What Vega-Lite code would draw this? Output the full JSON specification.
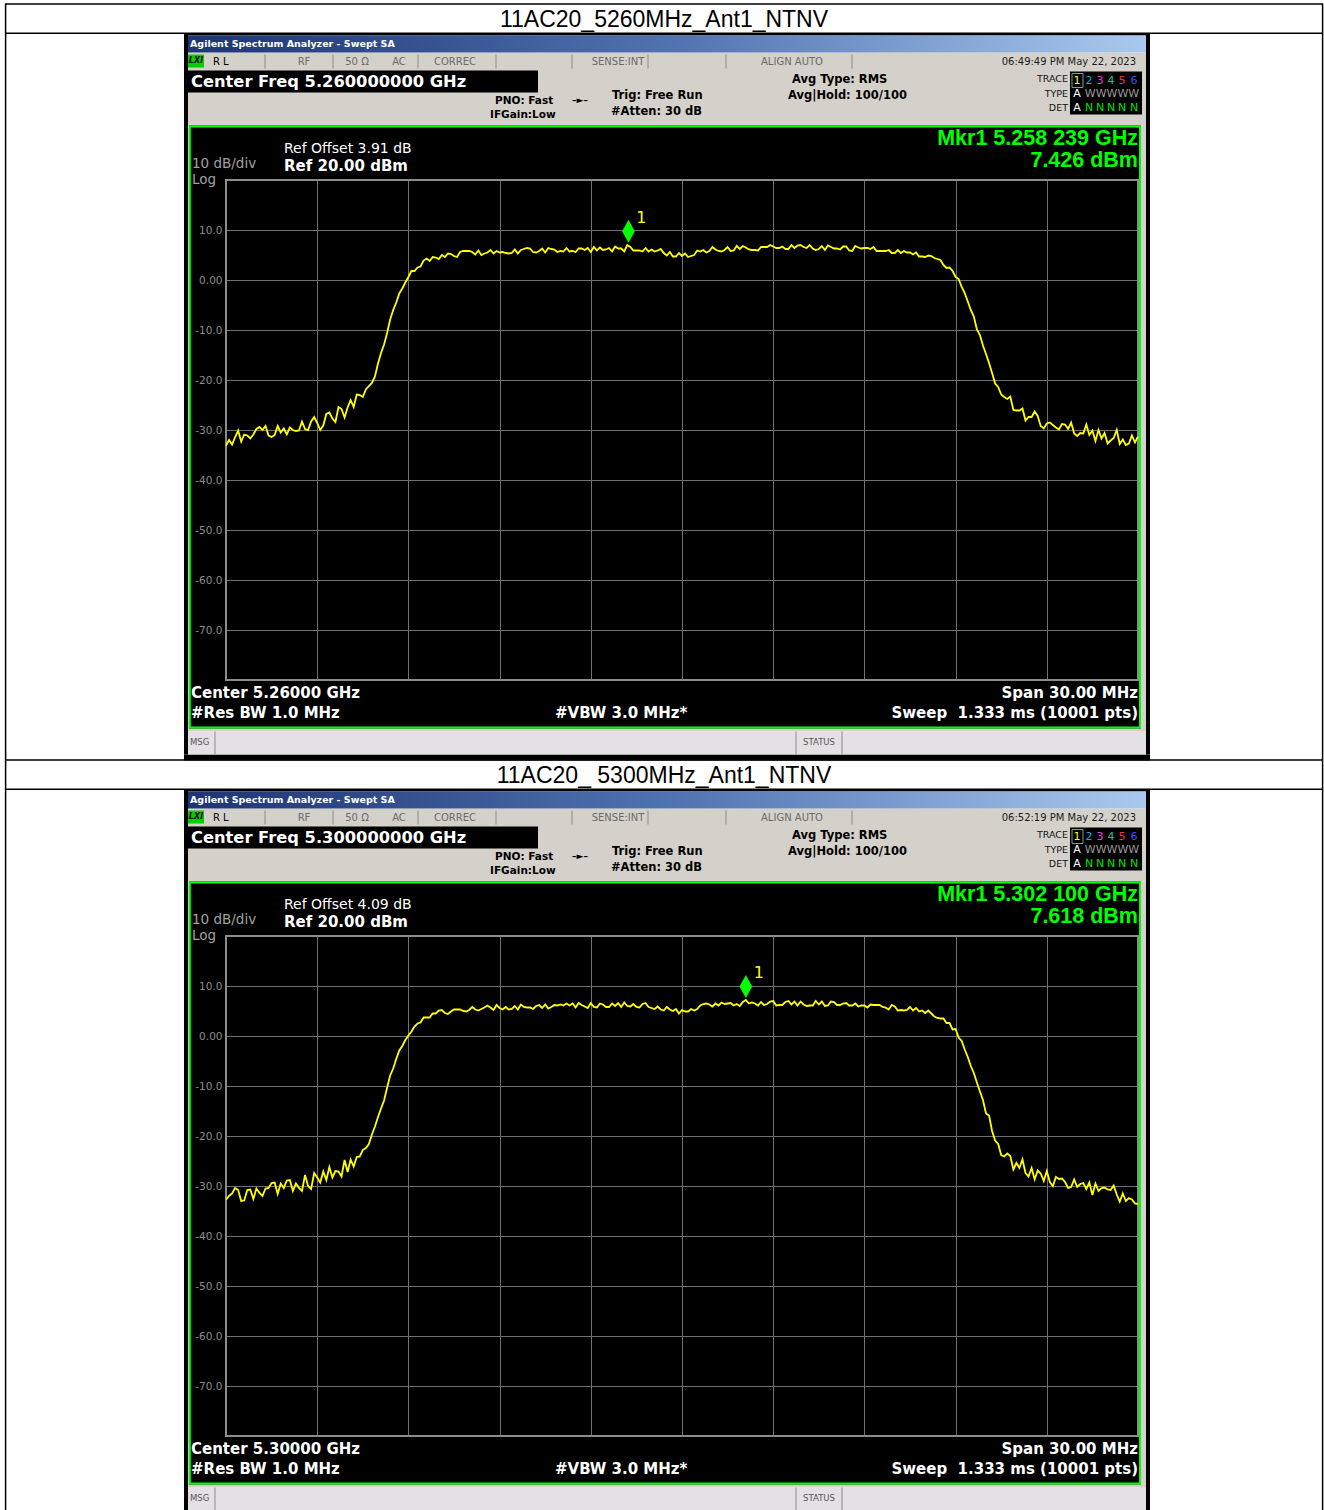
{
"$schema": "https://vega.github.io/schema/vega-lite/v6.json",
"padding": 0,
"autosize": {"type": "pad"},
"background": "white",
"bounds": "flush",
"spacing": 256,
"config": {"view": {"stroke": null, "fill": "#000000"}},
"datasets": {
"rects": [
{"panel":"1","part":"white","x":-22.434,"x2":21.118,"y":55.9,"y2":55.1},
{"panel":"all","part":"black","x":-16.382,"x2":-16.25,"y":49.3,"y2":-94.9},
{"panel":"all","part":"black","x":15.263,"x2":15.395,"y":49.3,"y2":-94.9},
{"panel":"all","part":"black","x":-16.382,"x2":15.395,"y":49.3,"y2":48.9},
{"panel":"1","part":"black","x":-16.382,"x2":15.395,"y":-94.9,"y2":-96.1},
{"panel":"all","part":"gray","x":-16.25,"x2":15.263,"y":45.5,"y2":30.9},
{"panel":"all","part":"gray","x":15.099,"x2":15.263,"y":30.9,"y2":-90.3},
{"panel":"all","part":"gray","x":-16.25,"x2":-16.217,"y":30.9,"y2":-90.3},
{"panel":"all","part":"gray","x":-16.25,"x2":15.263,"y":-89.7,"y2":-90.3},
{"panel":"all","part":"msg","x":-16.25,"x2":15.263,"y":-90.3,"y2":-94.9},
{"panel":"all","part":"lxi","x":-16.25,"x2":-15.724,"y":45.1,"y2":42.5},
{"panel":"all","part":"black","x":-16.25,"x2":-4.737,"y":41.9,"y2":37.5},
{"panel":"all","part":"black","x":12.763,"x2":15.132,"y":41.7,"y2":33.1},
{"panel":"all","part":"black","x":-16.217,"x2":15.099,"y":30.9,"y2":20},
{"panel":"all","part":"black","x":-16.217,"x2":15.099,"y":-80,"y2":-89.7},
{"panel":"all","part":"black","x":-16.217,"x2":-15,"y":20,"y2":-80},
{"panel":"all","part":"black","x":15,"x2":15.099,"y":20,"y2":-80}
],
"frames": [
{"part":"titlebar","x":-16.25,"x2":15.263,"y":48.9,"y2":45.5},
{"part":"screen","x":-16.19,"x2":15.066,"y":30.7,"y2":-89.5},
{"part":"graticule","x":-15,"x2":15,"y":20,"y2":-80}
],
"rules": [
{"panel":"1","part":"table","x":-22.27,"x2":21.086,"y":55.2,"y2":55.2},
{"panel":"all","part":"table","x":-22.27,"x2":21.086,"y":49.34,"y2":49.34},
{"panel":"1","part":"table","x":-22.27,"x2":21.086,"y":-96.0,"y2":-96.0},
{"panel":"1","part":"table","x":-22.25,"x2":-22.25,"y":55.25,"y2":-96.1},
{"panel":"1","part":"table","x":21.072,"x2":21.072,"y":55.25,"y2":-96.1},
{"panel":"2","part":"table","x":-22.25,"x2":-22.25,"y":55.1,"y2":-94.9},
{"panel":"2","part":"table","x":21.072,"x2":21.072,"y":55.1,"y2":-94.9},
{"panel":"all","part":"sep","x":-13.717,"x2":-13.717,"y":45.1,"y2":42.3},
{"panel":"all","part":"sep","x":-11.48,"x2":-11.48,"y":45.1,"y2":42.3},
{"panel":"all","part":"sep","x":-8.684,"x2":-8.684,"y":45.1,"y2":42.3},
{"panel":"all","part":"sep","x":-6.118,"x2":-6.118,"y":45.1,"y2":42.3},
{"panel":"all","part":"sep","x":-3.618,"x2":-3.618,"y":45.1,"y2":42.3},
{"panel":"all","part":"sep","x":-1.118,"x2":-1.118,"y":45.1,"y2":42.3},
{"panel":"all","part":"sep","x":1.447,"x2":1.447,"y":45.1,"y2":42.3},
{"panel":"all","part":"sep","x":5.592,"x2":5.592,"y":45.1,"y2":42.3},
{"panel":"all","part":"sep","x":-15.362,"x2":-15.362,"y":-90.3,"y2":-94.9},
{"panel":"all","part":"sep","x":3.75,"x2":3.75,"y":-90.3,"y2":-94.9},
{"panel":"all","part":"sep","x":5.263,"x2":5.263,"y":-90.3,"y2":-94.9},
{"panel":"all","part":"t1box","x":12.829,"x2":13.191,"y":41.3,"y2":41.3},
{"panel":"all","part":"t1box","x":12.829,"x2":13.191,"y":38.5,"y2":38.5},
{"panel":"all","part":"t1box","x":12.829,"x2":12.829,"y":41.3,"y2":38.5},
{"panel":"all","part":"t1box","x":13.191,"x2":13.191,"y":41.3,"y2":38.5}
],
"texts": [
{"panel":"1","kind":"title","x":-0.592,"y":52.1,"label":"11AC20_5260MHz_Ant1_NTNV"},
{"panel":"2","kind":"title","x":-0.592,"y":52.1,"label":"11AC20_ 5300MHz_Ant1_NTNV"},
{"panel":"all","kind":"header","x":-16.184,"y":47.2,"label":"Agilent Spectrum Analyzer - Swept SA"},
{"panel":"all","kind":"lxi","x":-15.987,"y":43.8,"label":"LXI"},
{"panel":"all","kind":"status_l","x":-15.428,"y":43.7,"label":"R L"},
{"panel":"all","kind":"status_c","x":-12.434,"y":43.7,"label":"RF"},
{"panel":"all","kind":"status_c","x":-10.691,"y":43.7,"label":"50 Ω"},
{"panel":"all","kind":"status_c","x":-9.309,"y":43.7,"label":"AC"},
{"panel":"all","kind":"status_c","x":-7.467,"y":43.7,"label":"CORREC"},
{"panel":"all","kind":"status_c","x":-2.105,"y":43.7,"label":"SENSE:INT"},
{"panel":"all","kind":"status_c","x":3.618,"y":43.7,"label":"ALIGN AUTO"},
{"panel":"1","kind":"status_r","x":14.934,"y":43.7,"label":"06:49:49 PM May 22, 2023"},
{"panel":"2","kind":"status_r","x":14.934,"y":43.7,"label":"06:52:19 PM May 22, 2023"},
{"panel":"1","kind":"cfreq","x":-16.151,"y":39.7,"label":"Center Freq 5.260000000 GHz"},
{"panel":"2","kind":"cfreq","x":-16.151,"y":39.7,"label":"Center Freq 5.300000000 GHz"},
{"panel":"all","kind":"ctrl_s","x":-6.151,"y":35.9,"label":"PNO: Fast"},
{"panel":"all","kind":"ctrl_s","x":-6.316,"y":33.1,"label":"IFGain:Low"},
{"panel":"all","kind":"arrow","x":-3.355,"y":36.1,"label":"–►–"},
{"panel":"all","kind":"ctrl","x":-2.303,"y":36.9,"label":"Trig: Free Run"},
{"panel":"all","kind":"ctrl","x":-2.336,"y":33.7,"label":"#Atten: 30 dB"},
{"panel":"all","kind":"ctrl","x":3.618,"y":40.1,"label":"Avg Type: RMS"},
{"panel":"all","kind":"ctrl","x":3.487,"y":36.9,"label":"Avg|Hold: 100/100"},
{"panel":"all","kind":"tracehdr","x":12.697,"y":40.3,"label":"TRACE"},
{"panel":"all","kind":"tracehdr","x":12.697,"y":37.3,"label":"TYPE"},
{"panel":"all","kind":"tracehdr","x":12.697,"y":34.5,"label":"DET"},
{"panel":"all","kind":"tracebox","part":"t1","x":12.993,"y":39.9,"label":"1"},
{"panel":"all","kind":"tracebox","part":"t2","x":13.388,"y":39.9,"label":"2"},
{"panel":"all","kind":"tracebox","part":"t3","x":13.75,"y":39.9,"label":"3"},
{"panel":"all","kind":"tracebox","part":"t4","x":14.112,"y":39.9,"label":"4"},
{"panel":"all","kind":"tracebox","part":"t5","x":14.474,"y":39.9,"label":"5"},
{"panel":"all","kind":"tracebox","part":"t6","x":14.868,"y":39.9,"label":"6"},
{"panel":"all","kind":"tracebox","part":"A","x":12.993,"y":37.2,"label":"A"},
{"panel":"all","kind":"tracebox","part":"W","x":14.145,"y":37.2,"label":"WWWWW"},
{"panel":"all","kind":"tracebox","part":"A","x":12.993,"y":34.4,"label":"A"},
{"panel":"all","kind":"tracebox","part":"N","x":13.388,"y":34.4,"label":"N"},
{"panel":"all","kind":"tracebox","part":"N","x":13.75,"y":34.4,"label":"N"},
{"panel":"all","kind":"tracebox","part":"N","x":14.112,"y":34.4,"label":"N"},
{"panel":"all","kind":"tracebox","part":"N","x":14.474,"y":34.4,"label":"N"},
{"panel":"all","kind":"tracebox","part":"N","x":14.868,"y":34.4,"label":"N"},
{"panel":"1","kind":"ref_off","x":-13.092,"y":26.3,"label":"Ref Offset 3.91 dB"},
{"panel":"2","kind":"ref_off","x":-13.092,"y":26.3,"label":"Ref Offset 4.09 dB"},
{"panel":"all","kind":"ref","x":-13.092,"y":22.9,"label":"Ref 20.00 dBm"},
{"panel":"all","kind":"scale","x":-16.118,"y":23.2,"label":"10 dB/div"},
{"panel":"all","kind":"scale","x":-16.118,"y":20.1,"label":"Log"},
{"panel":"1","kind":"mkr","x":15.0,"y":28.3,"label":"Mkr1 5.258 239 GHz"},
{"panel":"1","kind":"mkr","x":15.0,"y":23.9,"label":"7.426 dBm"},
{"panel":"2","kind":"mkr","x":15.0,"y":28.3,"label":"Mkr1 5.302 100 GHz"},
{"panel":"2","kind":"mkr","x":15.0,"y":23.9,"label":"7.618 dBm"},
{"panel":"1","kind":"bot_l","x":-16.151,"y":-82.5,"label":"Center 5.26000 GHz"},
{"panel":"2","kind":"bot_l","x":-16.151,"y":-82.5,"label":"Center 5.30000 GHz"},
{"panel":"all","kind":"bot_l","x":-16.151,"y":-86.5,"label":"#Res BW 1.0 MHz"},
{"panel":"all","kind":"bot_l","x":-4.178,"y":-86.5,"label":"#VBW 3.0 MHz*"},
{"panel":"all","kind":"bot_r","x":15.0,"y":-82.5,"label":"Span 30.00 MHz"},
{"panel":"all","kind":"bot_r","x":15.0,"y":-86.5,"label":"Sweep\u00a0 1.333 ms (10001 pts)"},
{"panel":"all","kind":"msg_l","x":-16.184,"y":-92.3,"label":"MSG"},
{"panel":"all","kind":"msg_c","x":4.507,"y":-92.3,"label":"STATUS"}
],
"marker1": [{"mhz":5258.239,"dbm":7.426,"label":"1"}],
"marker2": [{"mhz":5302.100,"dbm":7.618,"label":"1"}],
"trace1": [
{"mhz":5245.0,"dbm":-33.1},{"mhz":5245.1,"dbm":-32.0},{"mhz":5245.2,"dbm":-32.9},{"mhz":5245.3,"dbm":-31.4},{"mhz":5245.4,"dbm":-30.1},{"mhz":5245.5,"dbm":-32.3},{"mhz":5245.6,"dbm":-30.9},{"mhz":5245.7,"dbm":-31.1},{"mhz":5245.8,"dbm":-31.7},{"mhz":5245.9,"dbm":-30.9},
{"mhz":5246.0,"dbm":-29.8},{"mhz":5246.1,"dbm":-29.4},{"mhz":5246.2,"dbm":-30.0},{"mhz":5246.3,"dbm":-29.2},{"mhz":5246.4,"dbm":-31.1},{"mhz":5246.5,"dbm":-31.4},{"mhz":5246.6,"dbm":-31.0},{"mhz":5246.7,"dbm":-29.2},{"mhz":5246.8,"dbm":-30.5},{"mhz":5246.9,"dbm":-29.7},
{"mhz":5247.0,"dbm":-30.9},{"mhz":5247.1,"dbm":-29.5},{"mhz":5247.2,"dbm":-30.0},{"mhz":5247.3,"dbm":-30.2},{"mhz":5247.4,"dbm":-30.1},{"mhz":5247.5,"dbm":-28.3},{"mhz":5247.6,"dbm":-29.8},{"mhz":5247.7,"dbm":-30.0},{"mhz":5247.8,"dbm":-28.3},{"mhz":5247.9,"dbm":-27.4},
{"mhz":5248.0,"dbm":-28.6},{"mhz":5248.1,"dbm":-30.0},{"mhz":5248.2,"dbm":-29.1},{"mhz":5248.3,"dbm":-26.8},{"mhz":5248.4,"dbm":-26.5},{"mhz":5248.5,"dbm":-27.7},{"mhz":5248.6,"dbm":-28.4},{"mhz":5248.7,"dbm":-25.4},{"mhz":5248.8,"dbm":-25.8},{"mhz":5248.9,"dbm":-27.5},
{"mhz":5249.0,"dbm":-25.5},{"mhz":5249.1,"dbm":-24.0},{"mhz":5249.2,"dbm":-25.4},{"mhz":5249.3,"dbm":-22.9},{"mhz":5249.4,"dbm":-23.0},{"mhz":5249.5,"dbm":-23.4},{"mhz":5249.6,"dbm":-21.9},{"mhz":5249.7,"dbm":-21.2},{"mhz":5249.8,"dbm":-20.6},{"mhz":5249.9,"dbm":-19.3},
{"mhz":5250.0,"dbm":-16.7},{"mhz":5250.1,"dbm":-14.6},{"mhz":5250.2,"dbm":-12.9},{"mhz":5250.3,"dbm":-10.6},{"mhz":5250.4,"dbm":-7.9},{"mhz":5250.5,"dbm":-6.0},{"mhz":5250.6,"dbm":-4.5},{"mhz":5250.7,"dbm":-2.7},{"mhz":5250.8,"dbm":-1.7},{"mhz":5250.9,"dbm":-0.5},
{"mhz":5251.0,"dbm":0.6},{"mhz":5251.1,"dbm":1.8},{"mhz":5251.2,"dbm":1.8},{"mhz":5251.3,"dbm":2.5},{"mhz":5251.4,"dbm":2.7},{"mhz":5251.5,"dbm":3.9},{"mhz":5251.6,"dbm":4.3},{"mhz":5251.7,"dbm":3.8},{"mhz":5251.8,"dbm":4.6},{"mhz":5251.9,"dbm":4.5},
{"mhz":5252.0,"dbm":4.2},{"mhz":5252.1,"dbm":5.0},{"mhz":5252.2,"dbm":4.6},{"mhz":5252.3,"dbm":5.3},{"mhz":5252.4,"dbm":5.2},{"mhz":5252.5,"dbm":4.8},{"mhz":5252.6,"dbm":4.6},{"mhz":5252.7,"dbm":5.6},{"mhz":5252.8,"dbm":5.8},{"mhz":5252.9,"dbm":5.8},
{"mhz":5253.0,"dbm":5.8},{"mhz":5253.1,"dbm":5.6},{"mhz":5253.2,"dbm":5.1},{"mhz":5253.3,"dbm":5.9},{"mhz":5253.4,"dbm":5.0},{"mhz":5253.5,"dbm":5.3},{"mhz":5253.6,"dbm":5.5},{"mhz":5253.7,"dbm":6.0},{"mhz":5253.8,"dbm":5.3},{"mhz":5253.9,"dbm":5.8},
{"mhz":5254.0,"dbm":5.5},{"mhz":5254.1,"dbm":5.6},{"mhz":5254.2,"dbm":5.4},{"mhz":5254.3,"dbm":5.3},{"mhz":5254.4,"dbm":5.4},{"mhz":5254.5,"dbm":6.1},{"mhz":5254.6,"dbm":5.3},{"mhz":5254.7,"dbm":6.0},{"mhz":5254.8,"dbm":6.2},{"mhz":5254.9,"dbm":6.4},
{"mhz":5255.0,"dbm":6.3},{"mhz":5255.1,"dbm":5.6},{"mhz":5255.2,"dbm":5.5},{"mhz":5255.3,"dbm":5.8},{"mhz":5255.4,"dbm":6.3},{"mhz":5255.5,"dbm":5.5},{"mhz":5255.6,"dbm":6.4},{"mhz":5255.7,"dbm":6.2},{"mhz":5255.8,"dbm":6.1},{"mhz":5255.9,"dbm":5.6},
{"mhz":5256.0,"dbm":5.8},{"mhz":5256.1,"dbm":5.7},{"mhz":5256.2,"dbm":6.4},{"mhz":5256.3,"dbm":5.7},{"mhz":5256.4,"dbm":5.8},{"mhz":5256.5,"dbm":5.6},{"mhz":5256.6,"dbm":6.3},{"mhz":5256.7,"dbm":6.3},{"mhz":5256.8,"dbm":6.0},{"mhz":5256.9,"dbm":6.4},
{"mhz":5257.0,"dbm":5.6},{"mhz":5257.1,"dbm":6.6},{"mhz":5257.2,"dbm":5.9},{"mhz":5257.3,"dbm":6.5},{"mhz":5257.4,"dbm":6.0},{"mhz":5257.5,"dbm":6.1},{"mhz":5257.6,"dbm":6.4},{"mhz":5257.7,"dbm":5.7},{"mhz":5257.8,"dbm":6.7},{"mhz":5257.9,"dbm":6.3},
{"mhz":5258.0,"dbm":6.3},{"mhz":5258.1,"dbm":5.7},{"mhz":5258.2,"dbm":7.0},{"mhz":5258.3,"dbm":6.6},{"mhz":5258.4,"dbm":5.9},{"mhz":5258.5,"dbm":5.9},{"mhz":5258.6,"dbm":5.9},{"mhz":5258.7,"dbm":5.7},{"mhz":5258.8,"dbm":6.4},{"mhz":5258.9,"dbm":5.7},
{"mhz":5259.0,"dbm":6.1},{"mhz":5259.1,"dbm":5.7},{"mhz":5259.2,"dbm":5.9},{"mhz":5259.3,"dbm":6.2},{"mhz":5259.4,"dbm":5.4},{"mhz":5259.5,"dbm":4.9},{"mhz":5259.6,"dbm":5.6},{"mhz":5259.7,"dbm":4.7},{"mhz":5259.8,"dbm":4.7},{"mhz":5259.9,"dbm":5.4},
{"mhz":5260.0,"dbm":4.8},{"mhz":5260.1,"dbm":5.3},{"mhz":5260.2,"dbm":4.6},{"mhz":5260.3,"dbm":4.8},{"mhz":5260.4,"dbm":5.0},{"mhz":5260.5,"dbm":5.9},{"mhz":5260.6,"dbm":5.7},{"mhz":5260.7,"dbm":6.0},{"mhz":5260.8,"dbm":5.5},{"mhz":5260.9,"dbm":5.8},
{"mhz":5261.0,"dbm":6.6},{"mhz":5261.1,"dbm":6.1},{"mhz":5261.2,"dbm":5.8},{"mhz":5261.3,"dbm":5.7},{"mhz":5261.4,"dbm":6.0},{"mhz":5261.5,"dbm":6.6},{"mhz":5261.6,"dbm":5.8},{"mhz":5261.7,"dbm":5.9},{"mhz":5261.8,"dbm":6.8},{"mhz":5261.9,"dbm":6.2},
{"mhz":5262.0,"dbm":6.8},{"mhz":5262.1,"dbm":6.5},{"mhz":5262.2,"dbm":6.1},{"mhz":5262.3,"dbm":6.0},{"mhz":5262.4,"dbm":6.0},{"mhz":5262.5,"dbm":5.9},{"mhz":5262.6,"dbm":6.6},{"mhz":5262.7,"dbm":6.6},{"mhz":5262.8,"dbm":6.6},{"mhz":5262.9,"dbm":7.0},
{"mhz":5263.0,"dbm":6.7},{"mhz":5263.1,"dbm":6.4},{"mhz":5263.2,"dbm":6.4},{"mhz":5263.3,"dbm":6.7},{"mhz":5263.4,"dbm":6.2},{"mhz":5263.5,"dbm":6.2},{"mhz":5263.6,"dbm":7.0},{"mhz":5263.7,"dbm":6.4},{"mhz":5263.8,"dbm":6.9},{"mhz":5263.9,"dbm":7.0},
{"mhz":5264.0,"dbm":6.6},{"mhz":5264.1,"dbm":6.4},{"mhz":5264.2,"dbm":7.0},{"mhz":5264.3,"dbm":6.3},{"mhz":5264.4,"dbm":6.0},{"mhz":5264.5,"dbm":6.2},{"mhz":5264.6,"dbm":6.8},{"mhz":5264.7,"dbm":6.0},{"mhz":5264.8,"dbm":6.9},{"mhz":5264.9,"dbm":6.6},
{"mhz":5265.0,"dbm":6.3},{"mhz":5265.1,"dbm":6.3},{"mhz":5265.2,"dbm":6.1},{"mhz":5265.3,"dbm":6.7},{"mhz":5265.4,"dbm":6.7},{"mhz":5265.5,"dbm":5.9},{"mhz":5265.6,"dbm":5.8},{"mhz":5265.7,"dbm":6.8},{"mhz":5265.8,"dbm":6.5},{"mhz":5265.9,"dbm":6.3},
{"mhz":5266.0,"dbm":6.4},{"mhz":5266.1,"dbm":6.4},{"mhz":5266.2,"dbm":6.2},{"mhz":5266.3,"dbm":6.6},{"mhz":5266.4,"dbm":5.8},{"mhz":5266.5,"dbm":5.8},{"mhz":5266.6,"dbm":5.8},{"mhz":5266.7,"dbm":5.8},{"mhz":5266.8,"dbm":6.0},{"mhz":5266.9,"dbm":5.4},
{"mhz":5267.0,"dbm":5.4},{"mhz":5267.1,"dbm":6.0},{"mhz":5267.2,"dbm":5.4},{"mhz":5267.3,"dbm":5.8},{"mhz":5267.4,"dbm":5.5},{"mhz":5267.5,"dbm":5.5},{"mhz":5267.6,"dbm":5.1},{"mhz":5267.7,"dbm":5.5},{"mhz":5267.8,"dbm":4.7},{"mhz":5267.9,"dbm":4.7},
{"mhz":5268.0,"dbm":4.6},{"mhz":5268.1,"dbm":4.9},{"mhz":5268.2,"dbm":4.8},{"mhz":5268.3,"dbm":4.4},{"mhz":5268.4,"dbm":4.2},{"mhz":5268.5,"dbm":4.0},{"mhz":5268.6,"dbm":3.0},{"mhz":5268.7,"dbm":2.4},{"mhz":5268.8,"dbm":2.5},{"mhz":5268.9,"dbm":1.8},
{"mhz":5269.0,"dbm":0.6},{"mhz":5269.1,"dbm":0.2},{"mhz":5269.2,"dbm":-1.4},{"mhz":5269.3,"dbm":-2.6},{"mhz":5269.4,"dbm":-4.3},{"mhz":5269.5,"dbm":-6.0},{"mhz":5269.6,"dbm":-7.3},{"mhz":5269.7,"dbm":-9.9},{"mhz":5269.8,"dbm":-11.0},{"mhz":5269.9,"dbm":-13.1},
{"mhz":5270.0,"dbm":-14.8},{"mhz":5270.1,"dbm":-16.6},{"mhz":5270.2,"dbm":-18.6},{"mhz":5270.3,"dbm":-20.7},{"mhz":5270.4,"dbm":-21.4},{"mhz":5270.5,"dbm":-22.9},{"mhz":5270.6,"dbm":-23.4},{"mhz":5270.7,"dbm":-23.8},{"mhz":5270.8,"dbm":-23.3},{"mhz":5270.9,"dbm":-26.0},
{"mhz":5271.0,"dbm":-26.1},{"mhz":5271.1,"dbm":-26.1},{"mhz":5271.2,"dbm":-25.7},{"mhz":5271.3,"dbm":-28.1},{"mhz":5271.4,"dbm":-27.4},{"mhz":5271.5,"dbm":-27.4},{"mhz":5271.6,"dbm":-26.3},{"mhz":5271.7,"dbm":-27.2},{"mhz":5271.8,"dbm":-29.2},{"mhz":5271.9,"dbm":-29.7},
{"mhz":5272.0,"dbm":-28.7},{"mhz":5272.1,"dbm":-28.5},{"mhz":5272.2,"dbm":-29.0},{"mhz":5272.3,"dbm":-29.5},{"mhz":5272.4,"dbm":-29.9},{"mhz":5272.5,"dbm":-28.8},{"mhz":5272.6,"dbm":-28.9},{"mhz":5272.7,"dbm":-29.8},{"mhz":5272.8,"dbm":-28.5},{"mhz":5272.9,"dbm":-30.7},
{"mhz":5273.0,"dbm":-31.2},{"mhz":5273.1,"dbm":-30.6},{"mhz":5273.2,"dbm":-30.7},{"mhz":5273.3,"dbm":-28.9},{"mhz":5273.4,"dbm":-31.0},{"mhz":5273.5,"dbm":-30.1},{"mhz":5273.6,"dbm":-32.2},{"mhz":5273.7,"dbm":-30.0},{"mhz":5273.8,"dbm":-31.7},{"mhz":5273.9,"dbm":-30.6},
{"mhz":5274.0,"dbm":-32.7},{"mhz":5274.1,"dbm":-32.1},{"mhz":5274.2,"dbm":-31.6},{"mhz":5274.3,"dbm":-30.0},{"mhz":5274.4,"dbm":-32.8},{"mhz":5274.5,"dbm":-31.9},{"mhz":5274.6,"dbm":-33.0},{"mhz":5274.7,"dbm":-32.7},{"mhz":5274.8,"dbm":-31.1},{"mhz":5274.9,"dbm":-32.5},
{"mhz":5275.0,"dbm":-31.3}
],
"trace2": [
{"mhz":5285.0,"dbm":-32.7},{"mhz":5285.1,"dbm":-32.0},{"mhz":5285.2,"dbm":-31.5},{"mhz":5285.3,"dbm":-30.4},{"mhz":5285.4,"dbm":-30.8},{"mhz":5285.5,"dbm":-33.0},{"mhz":5285.6,"dbm":-32.9},{"mhz":5285.7,"dbm":-30.8},{"mhz":5285.8,"dbm":-30.7},{"mhz":5285.9,"dbm":-32.6},
{"mhz":5286.0,"dbm":-30.5},{"mhz":5286.1,"dbm":-31.4},{"mhz":5286.2,"dbm":-32.0},{"mhz":5286.3,"dbm":-30.5},{"mhz":5286.4,"dbm":-30.4},{"mhz":5286.5,"dbm":-29.4},{"mhz":5286.6,"dbm":-29.3},{"mhz":5286.7,"dbm":-31.6},{"mhz":5286.8,"dbm":-29.5},{"mhz":5286.9,"dbm":-30.4},
{"mhz":5287.0,"dbm":-28.9},{"mhz":5287.1,"dbm":-28.8},{"mhz":5287.2,"dbm":-31.0},{"mhz":5287.3,"dbm":-29.5},{"mhz":5287.4,"dbm":-30.4},{"mhz":5287.5,"dbm":-31.0},{"mhz":5287.6,"dbm":-27.8},{"mhz":5287.7,"dbm":-30.0},{"mhz":5287.8,"dbm":-30.6},{"mhz":5287.9,"dbm":-27.4},
{"mhz":5288.0,"dbm":-28.3},{"mhz":5288.1,"dbm":-29.3},{"mhz":5288.2,"dbm":-27.1},{"mhz":5288.3,"dbm":-28.8},{"mhz":5288.4,"dbm":-26.2},{"mhz":5288.5,"dbm":-28.3},{"mhz":5288.6,"dbm":-27.0},{"mhz":5288.7,"dbm":-27.1},{"mhz":5288.8,"dbm":-28.1},{"mhz":5288.9,"dbm":-24.8},
{"mhz":5289.0,"dbm":-27.2},{"mhz":5289.1,"dbm":-24.7},{"mhz":5289.2,"dbm":-26.1},{"mhz":5289.3,"dbm":-24.2},{"mhz":5289.4,"dbm":-24.1},{"mhz":5289.5,"dbm":-22.8},{"mhz":5289.6,"dbm":-22.4},{"mhz":5289.7,"dbm":-21.6},{"mhz":5289.8,"dbm":-19.7},{"mhz":5289.9,"dbm":-18.1},
{"mhz":5290.0,"dbm":-16.2},{"mhz":5290.1,"dbm":-14.5},{"mhz":5290.2,"dbm":-12.9},{"mhz":5290.3,"dbm":-10.3},{"mhz":5290.4,"dbm":-7.9},{"mhz":5290.5,"dbm":-6.5},{"mhz":5290.6,"dbm":-4.6},{"mhz":5290.7,"dbm":-2.9},{"mhz":5290.8,"dbm":-2.0},{"mhz":5290.9,"dbm":-0.8},
{"mhz":5291.0,"dbm":0.1},{"mhz":5291.1,"dbm":0.9},{"mhz":5291.2,"dbm":1.9},{"mhz":5291.3,"dbm":2.5},{"mhz":5291.4,"dbm":2.7},{"mhz":5291.5,"dbm":3.7},{"mhz":5291.6,"dbm":3.7},{"mhz":5291.7,"dbm":3.7},{"mhz":5291.8,"dbm":4.5},{"mhz":5291.9,"dbm":4.5},
{"mhz":5292.0,"dbm":5.1},{"mhz":5292.1,"dbm":5.2},{"mhz":5292.2,"dbm":4.6},{"mhz":5292.3,"dbm":4.4},{"mhz":5292.4,"dbm":4.9},{"mhz":5292.5,"dbm":5.3},{"mhz":5292.6,"dbm":5.3},{"mhz":5292.7,"dbm":5.3},{"mhz":5292.8,"dbm":5.0},{"mhz":5292.9,"dbm":4.9},
{"mhz":5293.0,"dbm":5.2},{"mhz":5293.1,"dbm":5.8},{"mhz":5293.2,"dbm":5.3},{"mhz":5293.3,"dbm":5.1},{"mhz":5293.4,"dbm":5.4},{"mhz":5293.5,"dbm":5.7},{"mhz":5293.6,"dbm":6.1},{"mhz":5293.7,"dbm":5.7},{"mhz":5293.8,"dbm":5.2},{"mhz":5293.9,"dbm":6.2},
{"mhz":5294.0,"dbm":5.6},{"mhz":5294.1,"dbm":5.3},{"mhz":5294.2,"dbm":5.8},{"mhz":5294.3,"dbm":5.3},{"mhz":5294.4,"dbm":5.4},{"mhz":5294.5,"dbm":6.0},{"mhz":5294.6,"dbm":5.3},{"mhz":5294.7,"dbm":6.3},{"mhz":5294.8,"dbm":5.8},{"mhz":5294.9,"dbm":5.7},
{"mhz":5295.0,"dbm":5.7},{"mhz":5295.1,"dbm":5.4},{"mhz":5295.2,"dbm":6.0},{"mhz":5295.3,"dbm":6.2},{"mhz":5295.4,"dbm":5.6},{"mhz":5295.5,"dbm":6.3},{"mhz":5295.6,"dbm":5.5},{"mhz":5295.7,"dbm":5.8},{"mhz":5295.8,"dbm":6.2},{"mhz":5295.9,"dbm":6.1},
{"mhz":5296.0,"dbm":6.3},{"mhz":5296.1,"dbm":6.1},{"mhz":5296.2,"dbm":6.5},{"mhz":5296.3,"dbm":6.1},{"mhz":5296.4,"dbm":6.5},{"mhz":5296.5,"dbm":5.7},{"mhz":5296.6,"dbm":6.6},{"mhz":5296.7,"dbm":6.2},{"mhz":5296.8,"dbm":5.9},{"mhz":5296.9,"dbm":5.6},
{"mhz":5297.0,"dbm":6.6},{"mhz":5297.1,"dbm":5.8},{"mhz":5297.2,"dbm":5.7},{"mhz":5297.3,"dbm":6.5},{"mhz":5297.4,"dbm":6.3},{"mhz":5297.5,"dbm":5.8},{"mhz":5297.6,"dbm":5.8},{"mhz":5297.7,"dbm":6.5},{"mhz":5297.8,"dbm":6.0},{"mhz":5297.9,"dbm":6.6},
{"mhz":5298.0,"dbm":5.8},{"mhz":5298.1,"dbm":6.7},{"mhz":5298.2,"dbm":6.0},{"mhz":5298.3,"dbm":5.9},{"mhz":5298.4,"dbm":6.4},{"mhz":5298.5,"dbm":5.8},{"mhz":5298.6,"dbm":5.7},{"mhz":5298.7,"dbm":6.4},{"mhz":5298.8,"dbm":6.6},{"mhz":5298.9,"dbm":5.8},
{"mhz":5299.0,"dbm":5.6},{"mhz":5299.1,"dbm":5.4},{"mhz":5299.2,"dbm":5.9},{"mhz":5299.3,"dbm":5.3},{"mhz":5299.4,"dbm":5.1},{"mhz":5299.5,"dbm":5.8},{"mhz":5299.6,"dbm":5.3},{"mhz":5299.7,"dbm":5.0},{"mhz":5299.8,"dbm":5.4},{"mhz":5299.9,"dbm":4.5},
{"mhz":5300.0,"dbm":5.2},{"mhz":5300.1,"dbm":4.9},{"mhz":5300.2,"dbm":4.9},{"mhz":5300.3,"dbm":5.4},{"mhz":5300.4,"dbm":5.1},{"mhz":5300.5,"dbm":5.4},{"mhz":5300.6,"dbm":6.1},{"mhz":5300.7,"dbm":6.4},{"mhz":5300.8,"dbm":6.5},{"mhz":5300.9,"dbm":6.3},
{"mhz":5301.0,"dbm":5.9},{"mhz":5301.1,"dbm":6.5},{"mhz":5301.2,"dbm":6.1},{"mhz":5301.3,"dbm":6.7},{"mhz":5301.4,"dbm":6.4},{"mhz":5301.5,"dbm":6.5},{"mhz":5301.6,"dbm":6.6},{"mhz":5301.7,"dbm":6.1},{"mhz":5301.8,"dbm":6.4},{"mhz":5301.9,"dbm":6.0},
{"mhz":5302.0,"dbm":6.8},{"mhz":5302.1,"dbm":7.2},{"mhz":5302.2,"dbm":6.5},{"mhz":5302.3,"dbm":6.7},{"mhz":5302.4,"dbm":6.5},{"mhz":5302.5,"dbm":6.1},{"mhz":5302.6,"dbm":6.8},{"mhz":5302.7,"dbm":6.2},{"mhz":5302.8,"dbm":6.4},{"mhz":5302.9,"dbm":6.9},
{"mhz":5303.0,"dbm":7.0},{"mhz":5303.1,"dbm":6.1},{"mhz":5303.2,"dbm":6.2},{"mhz":5303.3,"dbm":6.2},{"mhz":5303.4,"dbm":6.8},{"mhz":5303.5,"dbm":7.0},{"mhz":5303.6,"dbm":6.3},{"mhz":5303.7,"dbm":6.9},{"mhz":5303.8,"dbm":6.1},{"mhz":5303.9,"dbm":6.9},
{"mhz":5304.0,"dbm":6.3},{"mhz":5304.1,"dbm":6.0},{"mhz":5304.2,"dbm":6.1},{"mhz":5304.3,"dbm":6.1},{"mhz":5304.4,"dbm":7.0},{"mhz":5304.5,"dbm":6.3},{"mhz":5304.6,"dbm":6.9},{"mhz":5304.7,"dbm":6.0},{"mhz":5304.8,"dbm":6.1},{"mhz":5304.9,"dbm":6.9},
{"mhz":5305.0,"dbm":6.8},{"mhz":5305.1,"dbm":6.2},{"mhz":5305.2,"dbm":6.2},{"mhz":5305.3,"dbm":6.5},{"mhz":5305.4,"dbm":6.6},{"mhz":5305.5,"dbm":6.1},{"mhz":5305.6,"dbm":6.1},{"mhz":5305.7,"dbm":6.5},{"mhz":5305.8,"dbm":5.9},{"mhz":5305.9,"dbm":6.1},
{"mhz":5306.0,"dbm":6.1},{"mhz":5306.1,"dbm":5.7},{"mhz":5306.2,"dbm":6.3},{"mhz":5306.3,"dbm":6.2},{"mhz":5306.4,"dbm":6.2},{"mhz":5306.5,"dbm":6.2},{"mhz":5306.6,"dbm":5.8},{"mhz":5306.7,"dbm":5.7},{"mhz":5306.8,"dbm":5.3},{"mhz":5306.9,"dbm":6.2},
{"mhz":5307.0,"dbm":5.9},{"mhz":5307.1,"dbm":5.1},{"mhz":5307.2,"dbm":5.2},{"mhz":5307.3,"dbm":5.1},{"mhz":5307.4,"dbm":5.2},{"mhz":5307.5,"dbm":5.8},{"mhz":5307.6,"dbm":5.1},{"mhz":5307.7,"dbm":5.6},{"mhz":5307.8,"dbm":4.9},{"mhz":5307.9,"dbm":5.1},
{"mhz":5308.0,"dbm":4.6},{"mhz":5308.1,"dbm":5.1},{"mhz":5308.2,"dbm":4.5},{"mhz":5308.3,"dbm":3.9},{"mhz":5308.4,"dbm":3.6},{"mhz":5308.5,"dbm":3.5},{"mhz":5308.6,"dbm":3.5},{"mhz":5308.7,"dbm":2.6},{"mhz":5308.8,"dbm":2.6},{"mhz":5308.9,"dbm":1.3},
{"mhz":5309.0,"dbm":1.4},{"mhz":5309.1,"dbm":-0.3},{"mhz":5309.2,"dbm":-1.0},{"mhz":5309.3,"dbm":-2.7},{"mhz":5309.4,"dbm":-4.2},{"mhz":5309.5,"dbm":-6.0},{"mhz":5309.6,"dbm":-7.4},{"mhz":5309.7,"dbm":-9.3},{"mhz":5309.8,"dbm":-11.1},{"mhz":5309.9,"dbm":-12.8},
{"mhz":5310.0,"dbm":-15.5},{"mhz":5310.1,"dbm":-15.9},{"mhz":5310.2,"dbm":-19.0},{"mhz":5310.3,"dbm":-20.9},{"mhz":5310.4,"dbm":-21.6},{"mhz":5310.5,"dbm":-23.8},{"mhz":5310.6,"dbm":-24.1},{"mhz":5310.7,"dbm":-23.5},{"mhz":5310.8,"dbm":-24.0},{"mhz":5310.9,"dbm":-26.7},
{"mhz":5311.0,"dbm":-25.4},{"mhz":5311.1,"dbm":-26.4},{"mhz":5311.2,"dbm":-24.7},{"mhz":5311.3,"dbm":-27.4},{"mhz":5311.4,"dbm":-28.1},{"mhz":5311.5,"dbm":-26.4},{"mhz":5311.6,"dbm":-28.7},{"mhz":5311.7,"dbm":-26.9},{"mhz":5311.8,"dbm":-27.5},{"mhz":5311.9,"dbm":-29.0},
{"mhz":5312.0,"dbm":-27.0},{"mhz":5312.1,"dbm":-29.2},{"mhz":5312.2,"dbm":-30.0},{"mhz":5312.3,"dbm":-28.2},{"mhz":5312.4,"dbm":-28.6},{"mhz":5312.5,"dbm":-28.5},{"mhz":5312.6,"dbm":-29.2},{"mhz":5312.7,"dbm":-30.4},{"mhz":5312.8,"dbm":-30.2},{"mhz":5312.9,"dbm":-28.7},
{"mhz":5313.0,"dbm":-30.2},{"mhz":5313.1,"dbm":-29.6},{"mhz":5313.2,"dbm":-29.4},{"mhz":5313.3,"dbm":-30.6},{"mhz":5313.4,"dbm":-29.3},{"mhz":5313.5,"dbm":-31.8},{"mhz":5313.6,"dbm":-29.5},{"mhz":5313.7,"dbm":-31.0},{"mhz":5313.8,"dbm":-30.4},{"mhz":5313.9,"dbm":-30.3},
{"mhz":5314.0,"dbm":-30.7},{"mhz":5314.1,"dbm":-30.8},{"mhz":5314.2,"dbm":-29.9},{"mhz":5314.3,"dbm":-31.7},{"mhz":5314.4,"dbm":-33.1},{"mhz":5314.5,"dbm":-31.5},{"mhz":5314.6,"dbm":-33.0},{"mhz":5314.7,"dbm":-32.4},{"mhz":5314.8,"dbm":-32.7},{"mhz":5314.9,"dbm":-33.5},
{"mhz":5315.0,"dbm":-33.6}
]
},
"vconcat": [
{
"width": 912, "height": 500,
"resolve": {"scale": {"x": "independent"}, "axis": {"y": "independent"}},
"layer": [
{
"encoding": {
"x": {"field": "x", "type": "quantitative", "scale": {"domain": [-15, 15], "nice": false, "zero": false}, "axis": {"values": [-12,-9,-6,-3,0,3,6,9,12], "grid": true, "gridColor": "#707070", "gridWidth": 1, "gridOpacity": 1, "labels": false, "ticks": false, "domain": false, "title": null, "zindex": 0}},
"y": {"field": "y", "type": "quantitative", "scale": {"domain": [-80, 20], "nice": false, "zero": false}, "axis": {"orient": "left", "values": [-70,-60,-50,-40,-30,-20,-10,0,10], "grid": true, "gridColor": "#707070", "gridWidth": 1, "gridOpacity": 1, "labels": false, "ticks": false, "domain": false, "title": null, "zindex": 0}}
},
"layer": [
{"data": {"name": "rects"}, "transform": [{"filter": "datum.panel !== '2'"}], "mark": {"type": "rect", "clip": false}, "encoding": {"x2": {"field": "x2"}, "y2": {"field": "y2"}, "color": {"field": "part", "type": "nominal", "legend": null, "scale": {"domain": ["white","black","gray","msg","lxi","sep","t1box","t1","t2","t3","t4","t5","t6","A","N","W"], "range": ["#ffffff","#000000","#d4d1cb","#e4e1e4","#00d000","#8e8a84","#7aa07a","#ffff00","#2aa8d8","#e040e0","#20c090","#f03048","#4a4aff","#ffffff","#00e000","#9a9a9a"]}}}},
{"data": {"name": "frames"}, "transform": [{"filter": "datum.part === 'titlebar'"}], "mark": {"type": "rect", "clip": false, "color": {"gradient": "linear", "x1": 0, "y1": 0, "x2": 1, "y2": 0, "stops": [{"offset": 0, "color": "#1e3473"}, {"offset": 0.5, "color": "#4f72b0"}, {"offset": 1, "color": "#a9c9ef"}]}}, "encoding": {"x2": {"field": "x2"}, "y2": {"field": "y2"}}},
{"data": {"name": "frames"}, "transform": [{"filter": "datum.part === 'screen'"}], "mark": {"type": "rect", "clip": false, "filled": false, "color": "#00ff00", "strokeWidth": 2}, "encoding": {"x2": {"field": "x2"}, "y2": {"field": "y2"}}},
{"data": {"name": "frames"}, "transform": [{"filter": "datum.part === 'graticule'"}], "mark": {"type": "rect", "clip": false, "filled": false, "color": "#8c8c8c", "strokeWidth": 2}, "encoding": {"x2": {"field": "x2"}, "y2": {"field": "y2"}}},
{"data": {"name": "rules"}, "transform": [{"filter": "datum.part === 'table' && datum.panel !== '2'"}], "mark": {"type": "rule", "clip": false, "color": "#000000", "strokeWidth": 1.5}, "encoding": {"x2": {"field": "x2"}, "y2": {"field": "y2"}}},
{"data": {"name": "rules"}, "transform": [{"filter": "datum.part !== 'table' && datum.panel !== '2'"}], "mark": {"type": "rule", "clip": false, "strokeWidth": 1}, "encoding": {"x2": {"field": "x2"}, "y2": {"field": "y2"}, "color": {"field": "part", "type": "nominal", "legend": null, "scale": {"domain": ["white","black","gray","msg","lxi","sep","t1box","t1","t2","t3","t4","t5","t6","A","N","W"], "range": ["#ffffff","#000000","#d4d1cb","#e4e1e4","#00d000","#8e8a84","#7aa07a","#ffff00","#2aa8d8","#e040e0","#20c090","#f03048","#4a4aff","#ffffff","#00e000","#9a9a9a"]}}}},
{"data": {"name": "texts"}, "transform": [{"filter": "datum.kind === 'title' && datum.panel !== '2'"}], "mark": {"type": "text", "clip": false, "font": "Liberation Sans", "fontSize": 23, "color": "#000000", "align": "center", "baseline": "middle"}, "encoding": {"text": {"field": "label"}}},
{"data": {"name": "texts"}, "transform": [{"filter": "datum.kind === 'header' && datum.panel !== '2'"}], "mark": {"type": "text", "clip": false, "font": "DejaVu Sans", "fontSize": 9.5, "fontWeight": "bold", "color": "#ffffff", "align": "left", "baseline": "middle"}, "encoding": {"text": {"field": "label"}}},
{"data": {"name": "texts"}, "transform": [{"filter": "datum.kind === 'status_c' && datum.panel !== '2'"}], "mark": {"type": "text", "clip": false, "font": "DejaVu Sans", "fontSize": 10, "color": "#6a6a6a", "align": "center", "baseline": "middle"}, "encoding": {"text": {"field": "label"}}},
{"data": {"name": "texts"}, "transform": [{"filter": "datum.kind === 'status_l' && datum.panel !== '2'"}], "mark": {"type": "text", "clip": false, "font": "DejaVu Sans", "fontSize": 10, "color": "#000000", "align": "left", "baseline": "middle"}, "encoding": {"text": {"field": "label"}}},
{"data": {"name": "texts"}, "transform": [{"filter": "datum.kind === 'status_r' && datum.panel !== '2'"}], "mark": {"type": "text", "clip": false, "font": "DejaVu Sans", "fontSize": 10, "color": "#1a1a1a", "align": "right", "baseline": "middle"}, "encoding": {"text": {"field": "label"}}},
{"data": {"name": "texts"}, "transform": [{"filter": "datum.kind === 'lxi' && datum.panel !== '2'"}], "mark": {"type": "text", "clip": false, "font": "DejaVu Sans", "fontSize": 8, "fontWeight": "bold", "fontStyle": "italic", "color": "#000000", "align": "center", "baseline": "middle"}, "encoding": {"text": {"field": "label"}}},
{"data": {"name": "texts"}, "transform": [{"filter": "datum.kind === 'cfreq' && datum.panel !== '2'"}], "mark": {"type": "text", "clip": false, "font": "DejaVu Sans", "fontSize": 16.3, "fontWeight": "bold", "color": "#ffffff", "align": "left", "baseline": "middle"}, "encoding": {"text": {"field": "label"}}},
{"data": {"name": "texts"}, "transform": [{"filter": "datum.kind === 'ctrl_s' && datum.panel !== '2'"}], "mark": {"type": "text", "clip": false, "font": "DejaVu Sans", "fontSize": 10.5, "fontWeight": "bold", "color": "#000000", "align": "left", "baseline": "middle"}, "encoding": {"text": {"field": "label"}}},
{"data": {"name": "texts"}, "transform": [{"filter": "datum.kind === 'ctrl' && datum.panel !== '2'"}], "mark": {"type": "text", "clip": false, "font": "DejaVu Sans", "fontSize": 11.5, "fontWeight": "bold", "color": "#000000", "align": "left", "baseline": "middle"}, "encoding": {"text": {"field": "label"}}},
{"data": {"name": "texts"}, "transform": [{"filter": "datum.kind === 'arrow' && datum.panel !== '2'"}], "mark": {"type": "text", "clip": false, "font": "DejaVu Sans", "fontSize": 9, "fontWeight": "bold", "color": "#000000", "align": "center", "baseline": "middle"}, "encoding": {"text": {"field": "label"}}},
{"data": {"name": "texts"}, "transform": [{"filter": "datum.kind === 'tracehdr' && datum.panel !== '2'"}], "mark": {"type": "text", "clip": false, "font": "DejaVu Sans", "fontSize": 9.5, "color": "#111111", "align": "right", "baseline": "middle"}, "encoding": {"text": {"field": "label"}}},
{"data": {"name": "texts"}, "transform": [{"filter": "datum.kind === 'tracebox' && datum.panel !== '2'"}], "mark": {"type": "text", "clip": false, "font": "DejaVu Sans", "fontSize": 11, "align": "center", "baseline": "middle"}, "encoding": {"text": {"field": "label"}, "color": {"field": "part", "type": "nominal", "legend": null, "scale": {"domain": ["white","black","gray","msg","lxi","sep","t1box","t1","t2","t3","t4","t5","t6","A","N","W"], "range": ["#ffffff","#000000","#d4d1cb","#e4e1e4","#00d000","#8e8a84","#7aa07a","#ffff00","#2aa8d8","#e040e0","#20c090","#f03048","#4a4aff","#ffffff","#00e000","#9a9a9a"]}}}},
{"data": {"name": "texts"}, "transform": [{"filter": "datum.kind === 'ref_off' && datum.panel !== '2'"}], "mark": {"type": "text", "clip": false, "font": "DejaVu Sans", "fontSize": 14, "color": "#ffffff", "align": "left", "baseline": "middle"}, "encoding": {"text": {"field": "label"}}},
{"data": {"name": "texts"}, "transform": [{"filter": "datum.kind === 'ref' && datum.panel !== '2'"}], "mark": {"type": "text", "clip": false, "font": "DejaVu Sans", "fontSize": 15, "fontWeight": "bold", "color": "#ffffff", "align": "left", "baseline": "middle"}, "encoding": {"text": {"field": "label"}}},
{"data": {"name": "texts"}, "transform": [{"filter": "datum.kind === 'scale' && datum.panel !== '2'"}], "mark": {"type": "text", "clip": false, "font": "DejaVu Sans", "fontSize": 13.5, "color": "#a0a0a0", "align": "left", "baseline": "middle"}, "encoding": {"text": {"field": "label"}}},
{"data": {"name": "texts"}, "transform": [{"filter": "datum.kind === 'mkr' && datum.panel !== '2'"}], "mark": {"type": "text", "clip": false, "font": "Liberation Sans", "fontSize": 21.5, "fontWeight": "bold", "color": "#00ff00", "align": "right", "baseline": "middle"}, "encoding": {"text": {"field": "label"}}},
{"data": {"name": "texts"}, "transform": [{"filter": "datum.kind === 'bot_l' && datum.panel !== '2'"}], "mark": {"type": "text", "clip": false, "font": "DejaVu Sans", "fontSize": 15, "fontWeight": "bold", "color": "#ffffff", "align": "left", "baseline": "middle"}, "encoding": {"text": {"field": "label"}}},
{"data": {"name": "texts"}, "transform": [{"filter": "datum.kind === 'bot_r' && datum.panel !== '2'"}], "mark": {"type": "text", "clip": false, "font": "DejaVu Sans", "fontSize": 15, "fontWeight": "bold", "color": "#ffffff", "align": "right", "baseline": "middle"}, "encoding": {"text": {"field": "label"}}},
{"data": {"name": "texts"}, "transform": [{"filter": "datum.kind === 'msg_l' && datum.panel !== '2'"}], "mark": {"type": "text", "clip": false, "font": "DejaVu Sans", "fontSize": 8.5, "color": "#555555", "align": "left", "baseline": "middle"}, "encoding": {"text": {"field": "label"}}},
{"data": {"name": "texts"}, "transform": [{"filter": "datum.kind === 'msg_c' && datum.panel !== '2'"}], "mark": {"type": "text", "clip": false, "font": "DejaVu Sans", "fontSize": 8.5, "color": "#555555", "align": "center", "baseline": "middle"}, "encoding": {"text": {"field": "label"}}}
]
},
{
"encoding": {
"x": {"field": "mhz", "type": "quantitative", "scale": {"domain": [5245, 5275], "nice": false, "zero": false}, "axis": null},
"y": {"field": "dbm", "type": "quantitative", "scale": {"domain": [-80, 20], "nice": false, "zero": false}, "axis": {"orient": "left", "values": [10,0,-10,-20,-30,-40,-50,-60,-70], "grid": false, "ticks": false, "domain": false, "title": null, "labelColor": "#8c8c8c", "labelFont": "DejaVu Sans", "labelFontSize": 10.5, "labelPadding": 4, "labelOverlap": false, "labelFlush": false, "zindex": 1, "labelExpr": "datum.value === 0 ? '0.00' : (datum.value < 0 ? '-' : '') + format(abs(datum.value), '.1f')"}}
},
"layer": [
{"data": {"name": "trace1"}, "mark": {"type": "line", "clip": false, "color": "#ffff00", "strokeWidth": 1.8}},
{"data": {"name": "marker1"}, "mark": {"type": "point", "clip": false, "shape": "M0,-1L0.55,0L0,1L-0.55,0Z", "size": 529, "filled": true, "color": "#00ff00", "opacity": 1, "yOffset": -11.5}},
{"data": {"name": "marker1"}, "mark": {"type": "text", "clip": false, "font": "DejaVu Sans", "fontSize": 16, "color": "#ffff00", "dx": 13, "dy": -25, "align": "center", "baseline": "middle"}, "encoding": {"text": {"field": "label"}}}
]
}
]
},
{
"width": 912, "height": 500,
"resolve": {"scale": {"x": "independent"}, "axis": {"y": "independent"}},
"layer": [
{
"encoding": {
"x": {"field": "x", "type": "quantitative", "scale": {"domain": [-15, 15], "nice": false, "zero": false}, "axis": {"values": [-12,-9,-6,-3,0,3,6,9,12], "grid": true, "gridColor": "#707070", "gridWidth": 1, "gridOpacity": 1, "labels": false, "ticks": false, "domain": false, "title": null, "zindex": 0}},
"y": {"field": "y", "type": "quantitative", "scale": {"domain": [-80, 20], "nice": false, "zero": false}, "axis": {"orient": "left", "values": [-70,-60,-50,-40,-30,-20,-10,0,10], "grid": true, "gridColor": "#707070", "gridWidth": 1, "gridOpacity": 1, "labels": false, "ticks": false, "domain": false, "title": null, "zindex": 0}}
},
"layer": [
{"data": {"name": "rects"}, "transform": [{"filter": "datum.panel !== '1'"}], "mark": {"type": "rect", "clip": false}, "encoding": {"x2": {"field": "x2"}, "y2": {"field": "y2"}, "color": {"field": "part", "type": "nominal", "legend": null, "scale": {"domain": ["white","black","gray","msg","lxi","sep","t1box","t1","t2","t3","t4","t5","t6","A","N","W"], "range": ["#ffffff","#000000","#d4d1cb","#e4e1e4","#00d000","#8e8a84","#7aa07a","#ffff00","#2aa8d8","#e040e0","#20c090","#f03048","#4a4aff","#ffffff","#00e000","#9a9a9a"]}}}},
{"data": {"name": "frames"}, "transform": [{"filter": "datum.part === 'titlebar'"}], "mark": {"type": "rect", "clip": false, "color": {"gradient": "linear", "x1": 0, "y1": 0, "x2": 1, "y2": 0, "stops": [{"offset": 0, "color": "#1e3473"}, {"offset": 0.5, "color": "#4f72b0"}, {"offset": 1, "color": "#a9c9ef"}]}}, "encoding": {"x2": {"field": "x2"}, "y2": {"field": "y2"}}},
{"data": {"name": "frames"}, "transform": [{"filter": "datum.part === 'screen'"}], "mark": {"type": "rect", "clip": false, "filled": false, "color": "#00ff00", "strokeWidth": 2}, "encoding": {"x2": {"field": "x2"}, "y2": {"field": "y2"}}},
{"data": {"name": "frames"}, "transform": [{"filter": "datum.part === 'graticule'"}], "mark": {"type": "rect", "clip": false, "filled": false, "color": "#8c8c8c", "strokeWidth": 2}, "encoding": {"x2": {"field": "x2"}, "y2": {"field": "y2"}}},
{"data": {"name": "rules"}, "transform": [{"filter": "datum.part === 'table' && datum.panel !== '1'"}], "mark": {"type": "rule", "clip": false, "color": "#000000", "strokeWidth": 1.5}, "encoding": {"x2": {"field": "x2"}, "y2": {"field": "y2"}}},
{"data": {"name": "rules"}, "transform": [{"filter": "datum.part !== 'table' && datum.panel !== '1'"}], "mark": {"type": "rule", "clip": false, "strokeWidth": 1}, "encoding": {"x2": {"field": "x2"}, "y2": {"field": "y2"}, "color": {"field": "part", "type": "nominal", "legend": null, "scale": {"domain": ["white","black","gray","msg","lxi","sep","t1box","t1","t2","t3","t4","t5","t6","A","N","W"], "range": ["#ffffff","#000000","#d4d1cb","#e4e1e4","#00d000","#8e8a84","#7aa07a","#ffff00","#2aa8d8","#e040e0","#20c090","#f03048","#4a4aff","#ffffff","#00e000","#9a9a9a"]}}}},
{"data": {"name": "texts"}, "transform": [{"filter": "datum.kind === 'title' && datum.panel !== '1'"}], "mark": {"type": "text", "clip": false, "font": "Liberation Sans", "fontSize": 23, "color": "#000000", "align": "center", "baseline": "middle"}, "encoding": {"text": {"field": "label"}}},
{"data": {"name": "texts"}, "transform": [{"filter": "datum.kind === 'header' && datum.panel !== '1'"}], "mark": {"type": "text", "clip": false, "font": "DejaVu Sans", "fontSize": 9.5, "fontWeight": "bold", "color": "#ffffff", "align": "left", "baseline": "middle"}, "encoding": {"text": {"field": "label"}}},
{"data": {"name": "texts"}, "transform": [{"filter": "datum.kind === 'status_c' && datum.panel !== '1'"}], "mark": {"type": "text", "clip": false, "font": "DejaVu Sans", "fontSize": 10, "color": "#6a6a6a", "align": "center", "baseline": "middle"}, "encoding": {"text": {"field": "label"}}},
{"data": {"name": "texts"}, "transform": [{"filter": "datum.kind === 'status_l' && datum.panel !== '1'"}], "mark": {"type": "text", "clip": false, "font": "DejaVu Sans", "fontSize": 10, "color": "#000000", "align": "left", "baseline": "middle"}, "encoding": {"text": {"field": "label"}}},
{"data": {"name": "texts"}, "transform": [{"filter": "datum.kind === 'status_r' && datum.panel !== '1'"}], "mark": {"type": "text", "clip": false, "font": "DejaVu Sans", "fontSize": 10, "color": "#1a1a1a", "align": "right", "baseline": "middle"}, "encoding": {"text": {"field": "label"}}},
{"data": {"name": "texts"}, "transform": [{"filter": "datum.kind === 'lxi' && datum.panel !== '1'"}], "mark": {"type": "text", "clip": false, "font": "DejaVu Sans", "fontSize": 8, "fontWeight": "bold", "fontStyle": "italic", "color": "#000000", "align": "center", "baseline": "middle"}, "encoding": {"text": {"field": "label"}}},
{"data": {"name": "texts"}, "transform": [{"filter": "datum.kind === 'cfreq' && datum.panel !== '1'"}], "mark": {"type": "text", "clip": false, "font": "DejaVu Sans", "fontSize": 16.3, "fontWeight": "bold", "color": "#ffffff", "align": "left", "baseline": "middle"}, "encoding": {"text": {"field": "label"}}},
{"data": {"name": "texts"}, "transform": [{"filter": "datum.kind === 'ctrl_s' && datum.panel !== '1'"}], "mark": {"type": "text", "clip": false, "font": "DejaVu Sans", "fontSize": 10.5, "fontWeight": "bold", "color": "#000000", "align": "left", "baseline": "middle"}, "encoding": {"text": {"field": "label"}}},
{"data": {"name": "texts"}, "transform": [{"filter": "datum.kind === 'ctrl' && datum.panel !== '1'"}], "mark": {"type": "text", "clip": false, "font": "DejaVu Sans", "fontSize": 11.5, "fontWeight": "bold", "color": "#000000", "align": "left", "baseline": "middle"}, "encoding": {"text": {"field": "label"}}},
{"data": {"name": "texts"}, "transform": [{"filter": "datum.kind === 'arrow' && datum.panel !== '1'"}], "mark": {"type": "text", "clip": false, "font": "DejaVu Sans", "fontSize": 9, "fontWeight": "bold", "color": "#000000", "align": "center", "baseline": "middle"}, "encoding": {"text": {"field": "label"}}},
{"data": {"name": "texts"}, "transform": [{"filter": "datum.kind === 'tracehdr' && datum.panel !== '1'"}], "mark": {"type": "text", "clip": false, "font": "DejaVu Sans", "fontSize": 9.5, "color": "#111111", "align": "right", "baseline": "middle"}, "encoding": {"text": {"field": "label"}}},
{"data": {"name": "texts"}, "transform": [{"filter": "datum.kind === 'tracebox' && datum.panel !== '1'"}], "mark": {"type": "text", "clip": false, "font": "DejaVu Sans", "fontSize": 11, "align": "center", "baseline": "middle"}, "encoding": {"text": {"field": "label"}, "color": {"field": "part", "type": "nominal", "legend": null, "scale": {"domain": ["white","black","gray","msg","lxi","sep","t1box","t1","t2","t3","t4","t5","t6","A","N","W"], "range": ["#ffffff","#000000","#d4d1cb","#e4e1e4","#00d000","#8e8a84","#7aa07a","#ffff00","#2aa8d8","#e040e0","#20c090","#f03048","#4a4aff","#ffffff","#00e000","#9a9a9a"]}}}},
{"data": {"name": "texts"}, "transform": [{"filter": "datum.kind === 'ref_off' && datum.panel !== '1'"}], "mark": {"type": "text", "clip": false, "font": "DejaVu Sans", "fontSize": 14, "color": "#ffffff", "align": "left", "baseline": "middle"}, "encoding": {"text": {"field": "label"}}},
{"data": {"name": "texts"}, "transform": [{"filter": "datum.kind === 'ref' && datum.panel !== '1'"}], "mark": {"type": "text", "clip": false, "font": "DejaVu Sans", "fontSize": 15, "fontWeight": "bold", "color": "#ffffff", "align": "left", "baseline": "middle"}, "encoding": {"text": {"field": "label"}}},
{"data": {"name": "texts"}, "transform": [{"filter": "datum.kind === 'scale' && datum.panel !== '1'"}], "mark": {"type": "text", "clip": false, "font": "DejaVu Sans", "fontSize": 13.5, "color": "#a0a0a0", "align": "left", "baseline": "middle"}, "encoding": {"text": {"field": "label"}}},
{"data": {"name": "texts"}, "transform": [{"filter": "datum.kind === 'mkr' && datum.panel !== '1'"}], "mark": {"type": "text", "clip": false, "font": "Liberation Sans", "fontSize": 21.5, "fontWeight": "bold", "color": "#00ff00", "align": "right", "baseline": "middle"}, "encoding": {"text": {"field": "label"}}},
{"data": {"name": "texts"}, "transform": [{"filter": "datum.kind === 'bot_l' && datum.panel !== '1'"}], "mark": {"type": "text", "clip": false, "font": "DejaVu Sans", "fontSize": 15, "fontWeight": "bold", "color": "#ffffff", "align": "left", "baseline": "middle"}, "encoding": {"text": {"field": "label"}}},
{"data": {"name": "texts"}, "transform": [{"filter": "datum.kind === 'bot_r' && datum.panel !== '1'"}], "mark": {"type": "text", "clip": false, "font": "DejaVu Sans", "fontSize": 15, "fontWeight": "bold", "color": "#ffffff", "align": "right", "baseline": "middle"}, "encoding": {"text": {"field": "label"}}},
{"data": {"name": "texts"}, "transform": [{"filter": "datum.kind === 'msg_l' && datum.panel !== '1'"}], "mark": {"type": "text", "clip": false, "font": "DejaVu Sans", "fontSize": 8.5, "color": "#555555", "align": "left", "baseline": "middle"}, "encoding": {"text": {"field": "label"}}},
{"data": {"name": "texts"}, "transform": [{"filter": "datum.kind === 'msg_c' && datum.panel !== '1'"}], "mark": {"type": "text", "clip": false, "font": "DejaVu Sans", "fontSize": 8.5, "color": "#555555", "align": "center", "baseline": "middle"}, "encoding": {"text": {"field": "label"}}}
]
},
{
"encoding": {
"x": {"field": "mhz", "type": "quantitative", "scale": {"domain": [5285, 5315], "nice": false, "zero": false}, "axis": null},
"y": {"field": "dbm", "type": "quantitative", "scale": {"domain": [-80, 20], "nice": false, "zero": false}, "axis": {"orient": "left", "values": [10,0,-10,-20,-30,-40,-50,-60,-70], "grid": false, "ticks": false, "domain": false, "title": null, "labelColor": "#8c8c8c", "labelFont": "DejaVu Sans", "labelFontSize": 10.5, "labelPadding": 4, "labelOverlap": false, "labelFlush": false, "zindex": 1, "labelExpr": "datum.value === 0 ? '0.00' : (datum.value < 0 ? '-' : '') + format(abs(datum.value), '.1f')"}}
},
"layer": [
{"data": {"name": "trace2"}, "mark": {"type": "line", "clip": false, "color": "#ffff00", "strokeWidth": 1.8}},
{"data": {"name": "marker2"}, "mark": {"type": "point", "clip": false, "shape": "M0,-1L0.55,0L0,1L-0.55,0Z", "size": 529, "filled": true, "color": "#00ff00", "opacity": 1, "yOffset": -11.5}},
{"data": {"name": "marker2"}, "mark": {"type": "text", "clip": false, "font": "DejaVu Sans", "fontSize": 16, "color": "#ffff00", "dx": 13, "dy": -25, "align": "center", "baseline": "middle"}, "encoding": {"text": {"field": "label"}}}
]
}
]
}
]
}
